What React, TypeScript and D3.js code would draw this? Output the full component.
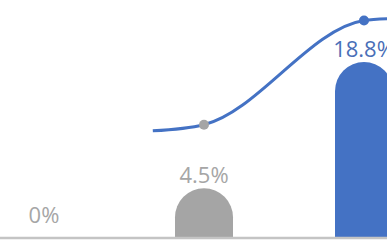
import * as d3 from "d3";

const categories = ["A", "B", "C"];
const barValues = [0, 4.5, 18.8];
const barKinds = ["gray", "gray", "blue"];

// trend line, x in category index units, y in %
const lineX = [0.68, 1, 2, 2.15];
const lineY = [11.0, 11.7, 23.5, 23.7];
const lineDots = [1, 2];

export default function App() {
  const width = 387;
  const height = 242;
  const baseline = 238;
  const barW = 58;

  const x = d3.scalePoint().domain(categories).range([44, 364]);
  const xi = d3.scaleLinear().domain([0, categories.length - 1]).range([44, 364]);
  const y = d3.scaleLinear().domain([0, 18.8]).range([228, 62]);

  const colors = { gray: "#a5a5a5", blue: "#4472c4" };
  const labelColors = { gray: "#a6a6a6", blue: "#4a6fb8" };

  const line = d3
    .line<number>()
    .x((d, i) => xi(lineX[i]))
    .y((d) => y(d))
    .curve(d3.curveMonotoneX);

  const barPath = (cx: number, top: number) => {
    const r = barW / 2;
    const x0 = cx - r;
    const x1 = cx + r;
    return `M${x0},${baseline}V${top + r}A${r},${r} 0 0 1 ${x1},${top + r}V${baseline}Z`;
  };

  return (
    <svg
      width={width}
      height={height}
      style={{ position: "absolute", left: 0, top: 0, display: "block", background: "#fff" }}
    >
      {categories.map((c, i) => {
        const v = barValues[i];
        const cx = x(c)!;
        const kind = barKinds[i] as "gray" | "blue";
        return (
          <g key={c}>
            {v > 0 && <path d={barPath(cx, y(v))} fill={colors[kind]} />}
            <text
              x={cx}
              y={y(v) - 5}
              textAnchor="middle"
              fontFamily="Open Sans"
              fontSize={22}
              fill={labelColors[kind]}
            >
              {v}%
            </text>
          </g>
        );
      })}

      <line x1={0} x2={width} y1={baseline} y2={baseline} stroke="#c4c4c4" strokeWidth={2.5} />

      <path d={line(lineY) ?? ""} fill="none" stroke="#4472c4" strokeWidth={3} />
      {lineDots.map((i) => (
        <circle
          key={i}
          cx={xi(lineX[i])}
          cy={y(lineY[i])}
          r={5}
          fill={colors[barKinds[Math.round(lineX[i])] as "gray" | "blue"]}
        />
      ))}
    </svg>
  );
}
